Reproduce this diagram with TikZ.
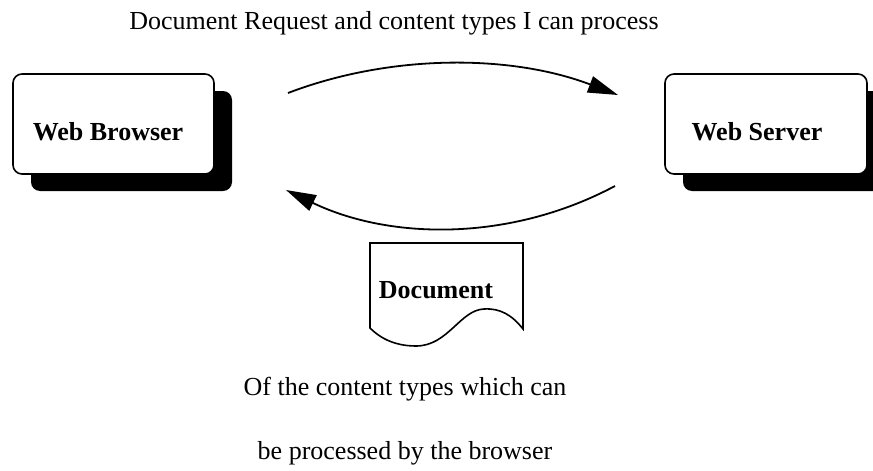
\documentclass[tikz,border=0pt]{standalone}
\usepackage{fontspec}
\setmainfont{Liberation Serif}
\usetikzlibrary{arrows.meta}
\begin{document}
\begin{tikzpicture}[x=1pt,y=-1pt,
  plain/.style={font=\fontsize{26}{30}\selectfont, inner sep=0pt},
  boxlabel/.style={font=\fontsize{26}{30}\bfseries\selectfont, inner sep=0pt},
  hostbox/.style={draw=black, line width=1.6pt, fill=white, rounded corners=9pt},
  shadowbox/.style={fill=black, rounded corners=9pt},
  flow/.style={line width=1.8pt, -{Triangle[length=30pt,width=17pt]}},
  sheet/.style={draw=black, line width=1.6pt, fill=white}]
\useasboundingbox (0,0) rectangle (873,471);

% title
\node[plain] (title) at (394,23) {Document Request and content types I can process};

% browser box with drop shadow
\fill[shadowbox] (31,91) rectangle (232,191);
\draw[hostbox] (13,74) rectangle (214,174);
\node[boxlabel] (browser) at (108,132) {Web Browser};

% server box with drop shadow
\fill[shadowbox] (683,91) rectangle (884,191);
\draw[hostbox] (665,74) rectangle (867,174);
\node[boxlabel] (server) at (757,132) {Web Server};

% request and response arcs
\coordinate (reqA) at (288,93);
\coordinate (reqB) at (618,95);
\coordinate (resA) at (615,186);
\coordinate (resB) at (286,190);
\draw[flow] (reqA) .. controls (390,54) and (510,54) .. (reqB);
\draw[flow] (resA) .. controls (510,242) and (390,240) .. (resB);

% document sheet with a wavy lower edge
\draw[sheet] (370,243) -- (523,243) -- (523,329)
  .. controls (512,315) and (500,308) .. (484,309)
  .. controls (460,310) and (448,346) .. (416,346)
  .. controls (392,346) and (378,336) .. (370,328) -- cycle;
\node[boxlabel] (doc) at (436,290) {Document};

% caption
\node[plain] (cap1) at (405,389) {Of the content types which can};
\node[plain] (cap2) at (405,453) {be processed by the browser};
\end{tikzpicture}
\end{document}
